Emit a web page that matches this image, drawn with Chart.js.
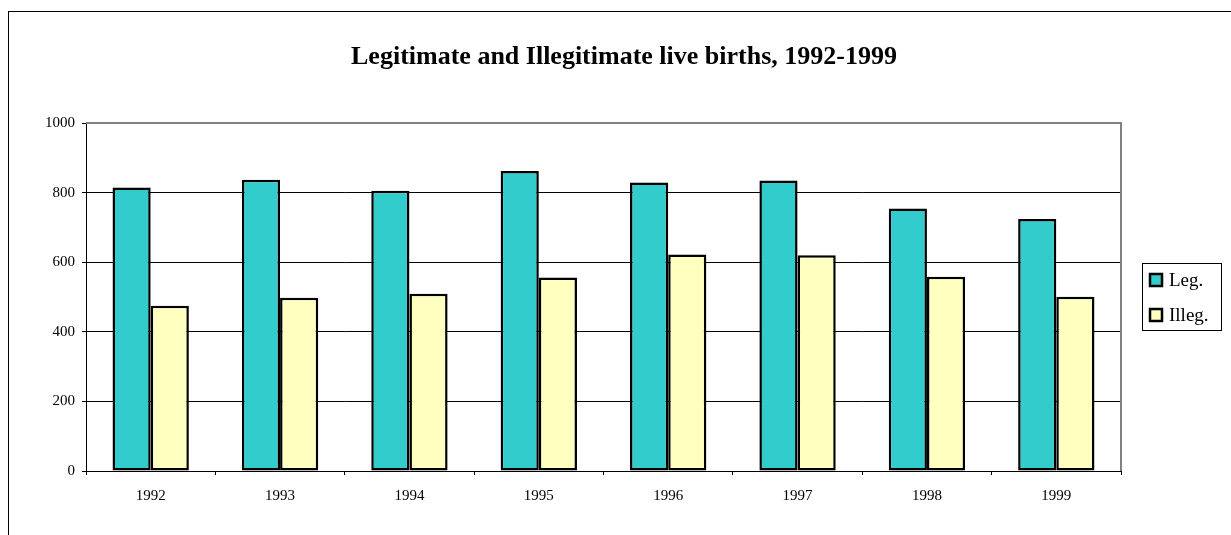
<!DOCTYPE html>
<html>
<head>
<meta charset="utf-8">
<script src="https://cdn.jsdelivr.net/npm/chart.js@4.4.1/dist/chart.umd.min.js"></script>
<style>
  html, body { margin: 0; padding: 0; background: #fff; }
  #wrap { width: 1231px; height: 535px; position: relative; }
</style>
</head>
<body>
<div id="wrap"><canvas id="myChart" width="1231" height="535"></canvas></div>
<script>
const years = ['1992', '1993', '1994', '1995', '1996', '1997', '1998', '1999'];
const legValues = [815, 837, 805, 862, 829, 835, 754, 724];
const illegValues = [475, 498, 509, 556, 622, 620, 558, 501];
const yTicks = [0, 200, 400, 600, 800, 1000];
const titleText = 'Legitimate and Illegitimate live births, 1992-1999';

const serif = '"Liberation Serif", "Times New Roman", serif';

// frame, grey plot border, title and boxed legend
const decorations = {
  id: 'decorations',
  beforeDraw(chart) {
    const ctx = chart.ctx;
    ctx.save();
    ctx.fillStyle = '#fff';
    ctx.fillRect(0, 0, chart.width, chart.height);
    ctx.strokeStyle = '#000';
    ctx.lineWidth = 1;
    ctx.strokeRect(8.5, 11.5, 1400, 800);
    ctx.restore();
  },
  afterDraw(chart) {
    const ctx = chart.ctx;
    const a = chart.chartArea;
    ctx.save();

    // top + right border of the plot area
    ctx.strokeStyle = '#808080';
    ctx.lineWidth = 2;
    ctx.beginPath();
    ctx.moveTo(a.left, a.top);
    ctx.lineTo(a.right, a.top);
    ctx.lineTo(a.right, a.bottom);
    ctx.stroke();

    // title
    ctx.fillStyle = '#000';
    ctx.font = 'bold 26px ' + serif;
    ctx.textAlign = 'center';
    ctx.textBaseline = 'middle';
    ctx.fillText(titleText, 624, 57);

    // legend
    ctx.strokeStyle = '#000';
    ctx.lineWidth = 1;
    ctx.strokeRect(1142.5, 263.5, 79, 67);
    ctx.font = '19px ' + serif;
    ctx.textAlign = 'left';
    chart.data.datasets.forEach((ds, i) => {
      const y = 274 + i * 35;
      ctx.fillStyle = ds.backgroundColor;
      ctx.fillRect(1150, y, 12, 12);
      ctx.lineWidth = 2.5;
      ctx.strokeRect(1150, y, 12, 12);
      ctx.fillStyle = '#000';
      ctx.fillText(ds.label, 1169, y + 7);
    });
    ctx.restore();
  }
};

const ctx = document.getElementById('myChart');

var chart = new Chart(ctx, {
  type: 'bar',
  data: {
    labels: years,
    datasets: [{
      label: 'Leg.',
      data: legValues,
      backgroundColor: '#33CCCC',
      borderColor: '#000',
      borderWidth: 2.5,
      borderSkipped: false
    }, {
      label: 'Illeg.',
      data: illegValues,
      backgroundColor: '#FFFFC0',
      borderColor: '#000',
      borderWidth: 2.5,
      borderSkipped: false
    }]
  },
  options: {
    responsive: false,
    animation: false,
    layout: {
      padding: { top: 123, right: 110, bottom: 0, left: 0 }
    },
    plugins: {
      legend: { display: false },
      title: { display: false },
      tooltip: { enabled: false }
    },
    datasets: {
      bar: { categoryPercentage: 0.59, barPercentage: 1 }
    },
    scales: {
      x: {
        grid: {
          offset: true,
          drawOnChartArea: false,
          drawTicks: true,
          tickLength: 4,
          tickColor: '#000'
        },
        border: { color: '#000', width: 1 },
        ticks: {
          color: '#000',
          font: { family: serif, size: 15 },
          padding: 12,
          maxRotation: 0
        },
        afterFit(scale) { scale.height = 64; }
      },
      y: {
        min: 0,
        max: 1000,
        afterBuildTicks(scale) {
          scale.ticks = yTicks.map(v => ({ value: v }));
        },
        grid: {
          color: c => (c.tick && c.tick.value === 1000) ? 'rgba(0,0,0,0)' : '#000',
          tickColor: '#000',
          tickLength: 4,
          lineWidth: 1
        },
        border: { color: '#000', width: 1 },
        ticks: {
          color: '#000',
          font: { family: serif, size: 15 },
          padding: 7,
          callback: v => String(v)
        },
        afterFit(scale) { scale.width = 86; }
      }
    }
  },
  plugins: [decorations]
});
</script>
</body>
</html>
